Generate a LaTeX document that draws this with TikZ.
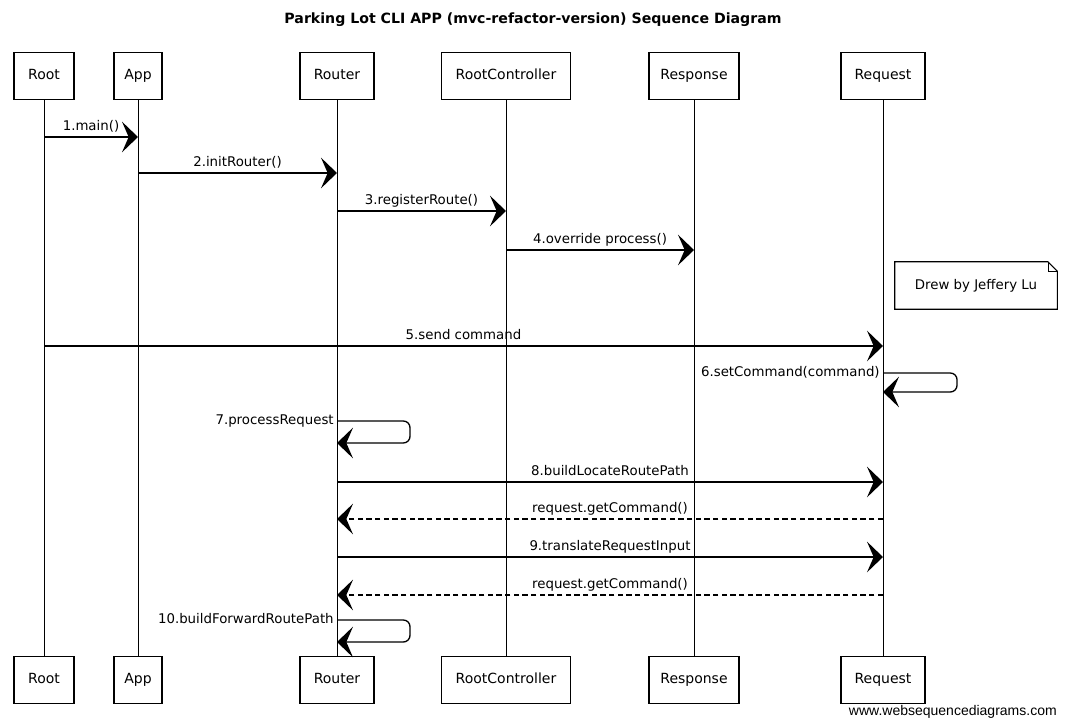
\documentclass[tikz,border=0pt]{standalone}
\usepackage{fontspec}
\setmainfont{DejaVu Sans}
\newfontfamily\wsdfont{Liberation Sans}
\usetikzlibrary{arrows.meta}
\begin{document}
\begin{tikzpicture}[x=0.75pt,y=-0.75pt,
  actor/.style={draw,line width=0.9pt,minimum height=35.25pt,inner sep=1pt,text height=8pt,text depth=2.5pt,font=\fontsize{10.5}{12}\selectfont},
  lifeline/.style={line width=0.7pt},
  msg/.style={line width=1pt,-{Stealth[length=12pt,width=23pt,inset=5pt]}},
  ret/.style={msg,dash pattern=on 4pt off 2.5pt},
  lbl/.style={above,inner sep=2pt,text height=7.5pt,text depth=2.5pt,font=\fontsize{10}{12}\selectfont},
  slbl/.style={left,inner sep=2pt,text height=7.5pt,text depth=2.5pt,font=\fontsize{10}{12}\selectfont},
  selfmsg/.style={msg,rounded corners=5pt}]
\useasboundingbox[fill=white] (0,0) rectangle (1066,727);

\node[font=\bfseries\fontsize{10.6}{12}\selectfont] (title) at (533,20) {Parking Lot CLI APP (mvc-refactor-version) Sequence Diagram};

% top participants
\node[actor,minimum width=45pt]   (rootT) at (44,76)  {Root};
\node[actor,minimum width=36pt]   (appT)  at (138,76) {App};
\node[actor,minimum width=55.5pt] (routT) at (337,76) {Router};
\node[actor,minimum width=96.75pt](rcT)   at (506,76) {RootController};
\node[actor,minimum width=67.5pt] (respT) at (694,76) {Response};
\node[actor,minimum width=63pt]   (reqT)  at (883,76) {Request};
% bottom participants
\node[actor,minimum width=45pt]   (rootB) at (44,680)  {Root};
\node[actor,minimum width=36pt]   (appB)  at (138,680) {App};
\node[actor,minimum width=55.5pt] (routB) at (337,680) {Router};
\node[actor,minimum width=96.75pt](rcB)   at (506,680) {RootController};
\node[actor,minimum width=67.5pt] (respB) at (694,680) {Response};
\node[actor,minimum width=63pt]   (reqB)  at (883,680) {Request};

% lifelines
\draw[lifeline] (rootT) -- (rootB);
\draw[lifeline] (appT) -- (appB);
\draw[lifeline] (routT) -- (routB);
\draw[lifeline] (rcT) -- (rcB);
\draw[lifeline] (respT) -- (respB);
\draw[lifeline] (reqT) -- (reqB);

% messages
\draw[msg] (rootT |- 0,137) -- node[lbl] {1.main()} (appT |- 0,137);
\draw[msg] (appT |- 0,173) -- node[lbl] {2.initRouter()} (routT |- 0,173);
\draw[msg] (routT |- 0,211) -- node[lbl] {3.registerRoute()} (rcT |- 0,211);
\draw[msg] (rcT |- 0,250) -- node[lbl] {4.override process()} (respT |- 0,250);

% note
\node[font=\fontsize{10}{12}\selectfont,minimum width=121.5pt,minimum height=35.25pt,inner sep=0pt] (note) at (976,285.5) {Drew by Jeffery Lu};
\draw[line width=0.8pt] (note.north west) -- ([xshift=-7pt]note.north east) -- ([yshift=-7pt]note.north east) -- (note.south east) -- (note.south west) -- cycle;
\draw[line width=0.6pt] ([xshift=-7pt]note.north east) -- ([xshift=-7pt,yshift=-7pt]note.north east) -- ([yshift=-7pt]note.north east);

\draw[msg] (rootT |- 0,346) -- node[lbl] {5.send command} (reqT |- 0,346);

\draw[selfmsg] (reqT |- 0,373) node[slbl] {6.setCommand(command)} -- ++(74,0) -- ++(0,19) -- (reqT |- 0,392);
\draw[selfmsg] (routT |- 0,421) node[slbl] {7.processRequest} -- ++(73,0) -- ++(0,22) -- (routT |- 0,443);

\draw[msg] (routT |- 0,482) -- node[lbl] {8.buildLocateRoutePath} (reqT |- 0,482);
\draw[ret] (reqT |- 0,519) -- node[lbl] {request.getCommand()} (routT |- 0,519);
\draw[msg] (routT |- 0,557) -- node[lbl] {9.translateRequestInput} (reqT |- 0,557);
\draw[ret] (reqT |- 0,595) -- node[lbl] {request.getCommand()} (routT |- 0,595);

\draw[selfmsg] (routT |- 0,620) node[slbl] {10.buildForwardRoutePath} -- ++(73,0) -- ++(0,22) -- (routT |- 0,642);

\node[font=\wsdfont\fontsize{10.5}{12}\selectfont,anchor=east,inner sep=0pt] (wsd) at (1057,712) {www.websequencediagrams.com};
\end{tikzpicture}
\end{document}
